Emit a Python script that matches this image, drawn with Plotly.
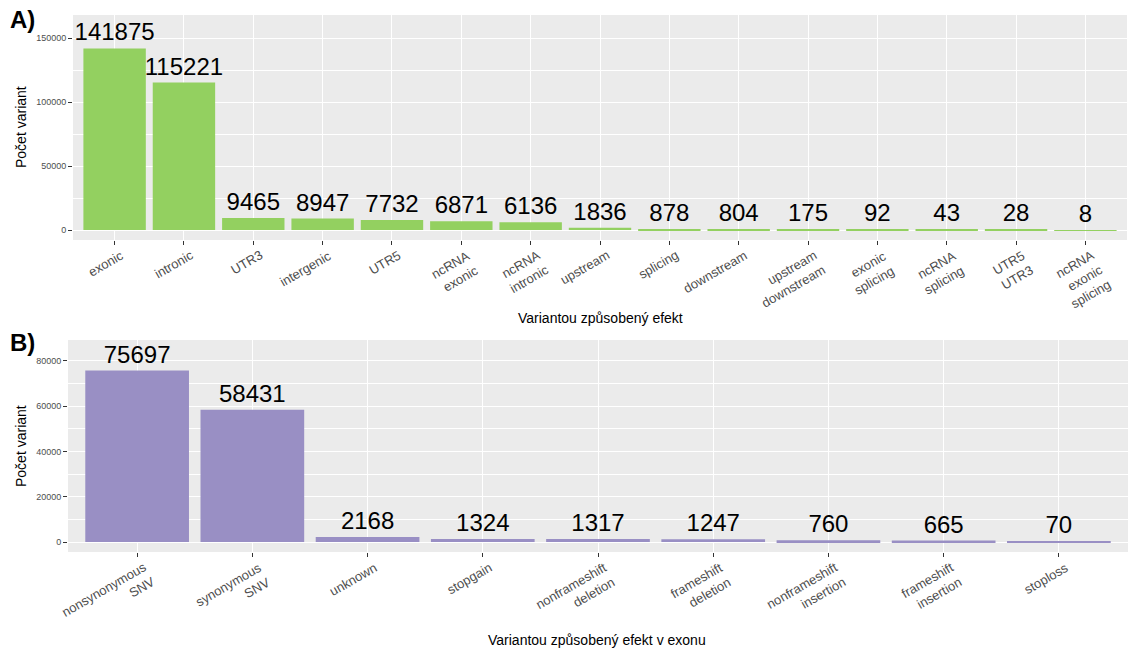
import plotly.graph_objects as go

# Panel A: variant effect categories
effects_a = ["exonic", "intronic", "UTR3", "intergenic", "UTR5", "ncRNA<br>exonic",
             "ncRNA<br>intronic", "upstream", "splicing", "downstream",
             "upstream<br>downstream", "exonic<br>splicing", "ncRNA<br>splicing",
             "UTR5<br>UTR3", "ncRNA<br>exonic<br>splicing"]
counts_a = [141875, 115221, 9465, 8947, 7732, 6871, 6136, 1836, 878, 804, 175, 92, 43, 28, 8]

# Panel B: exonic variant effect categories
effects_b = ["nonsynonymous<br>SNV", "synonymous<br>SNV", "unknown", "stopgain",
             "nonframeshift<br>deletion", "frameshift<br>deletion",
             "nonframeshift<br>insertion", "frameshift<br>insertion", "stoploss"]
counts_b = [75697, 58431, 2168, 1324, 1317, 1247, 760, 665, 70]

W, H = 1133, 649
FONT = "Liberation Sans, Arial, sans-serif"
GREEN = "#93D060"
PURPLE = "#998FC4"
PANEL = "#EBEBEB"
TICK_FONT_SIZE = 13


def px_x(x):
    return x / W


def px_y(y):
    return 1 - y / H


fig = go.Figure()

fig.add_trace(go.Bar(
    x=effects_a, y=counts_a, marker=dict(color=GREEN, line=dict(width=0)),
    width=0.9, text=[str(v) for v in counts_a], textposition="outside",
    textfont=dict(size=24, color="black", family=FONT), constraintext="none",
    cliponaxis=False, xaxis="x", yaxis="y", showlegend=False,
))
fig.add_trace(go.Bar(
    x=effects_b, y=counts_b, marker=dict(color=PURPLE, line=dict(width=0)),
    width=0.9, text=[str(v) for v in counts_b], textposition="outside",
    textfont=dict(size=24, color="black", family=FONT), constraintext="none",
    cliponaxis=False, xaxis="x2", yaxis="y2", showlegend=False,
))

common_x = dict(
    type="category", showgrid=True, gridcolor="white", gridwidth=1.1,
    ticks="outside", ticklen=4, tickcolor="#333333", tickwidth=1,
    showticklabels=False, showline=False, zeroline=False, fixedrange=True,
)
common_y = dict(
    showgrid=True, gridcolor="white", gridwidth=1.1,
    minor=dict(showgrid=True, gridcolor="white", gridwidth=0.5),
    ticks="outside", ticklen=4, tickcolor="#333333", tickwidth=1,
    tickfont=dict(size=9, color="#4D4D4D", family=FONT),
    showline=False, zeroline=False, tickformat="d", fixedrange=True,
)

A_BOTTOM, A_TOP = 240, 15
B_BOTTOM, B_TOP = 552, 340

fig.update_layout(
    width=W, height=H, margin=dict(l=0, r=0, t=0, b=0),
    paper_bgcolor="white", plot_bgcolor=PANEL, bargap=0.1,
    font=dict(family=FONT),
    xaxis=dict(common_x, domain=[px_x(73), px_x(1127)], anchor="y",
               range=[-0.6, len(effects_a) - 0.4]),
    yaxis=dict(common_y, domain=[px_y(A_BOTTOM), px_y(A_TOP)], anchor="x",
               range=[-7800, 168000], tickvals=[0, 50000, 100000, 150000],
               minor_tickvals=[25000, 75000, 125000]),
    xaxis2=dict(common_x, domain=[px_x(68), px_x(1128)], anchor="y2",
                range=[-0.6, len(effects_b) - 0.4]),
    yaxis2=dict(common_y, domain=[px_y(B_BOTTOM), px_y(B_TOP)], anchor="x2",
                range=[-4400, 89200], tickvals=[0, 20000, 40000, 60000, 80000],
                minor_tickvals=[10000, 30000, 50000, 70000]),
)

annotations = [
    dict(text="<b>A)</b>", x=px_x(8), y=px_y(20), xanchor="left", yanchor="middle",
         font=dict(size=24, color="black", family=FONT)),
    dict(text="<b>B)</b>", x=px_x(8), y=px_y(342), xanchor="left", yanchor="middle",
         font=dict(size=24, color="black", family=FONT)),
    dict(text="Počet variant", x=px_x(21), y=px_y(127), textangle=-90,
         xanchor="center", yanchor="middle", font=dict(size=14, color="black", family=FONT)),
    dict(text="Počet variant", x=px_x(21), y=px_y(446), textangle=-90,
         xanchor="center", yanchor="middle", font=dict(size=14, color="black", family=FONT)),
    dict(text="Variantou způsobený efekt", x=px_x(600), y=px_y(318),
         xanchor="center", yanchor="middle", font=dict(size=14, color="black", family=FONT)),
    dict(text="Variantou způsobený efekt v exonu", x=px_x(597), y=px_y(640),
         xanchor="center", yanchor="middle", font=dict(size=14, color="black", family=FONT)),
]
for a in annotations:
    a.update(xref="paper", yref="paper")


def category_labels(cats, xref, bottom_px):
    # Rotated, right-aligned category labels hanging from each tick
    out = []
    for c in cats:
        n_lines = c.count("<br>") + 1
        box_h = n_lines * TICK_FONT_SIZE * 1.3 + 4
        out.append(dict(
            text=c, x=c, xref=xref, y=px_y(bottom_px), yref="paper",
            xanchor="right", yanchor="top", align="right", textangle=-30,
            xshift=4 + box_h / 2, yshift=-5,
            font=dict(size=TICK_FONT_SIZE, color="#4D4D4D", family=FONT),
        ))
    return out


annotations += category_labels(effects_a, "x", A_BOTTOM)
annotations += category_labels(effects_b, "x2", B_BOTTOM)
for a in annotations:
    a["showarrow"] = False
fig.update_layout(annotations=annotations)

fig.write_html("out.html")
